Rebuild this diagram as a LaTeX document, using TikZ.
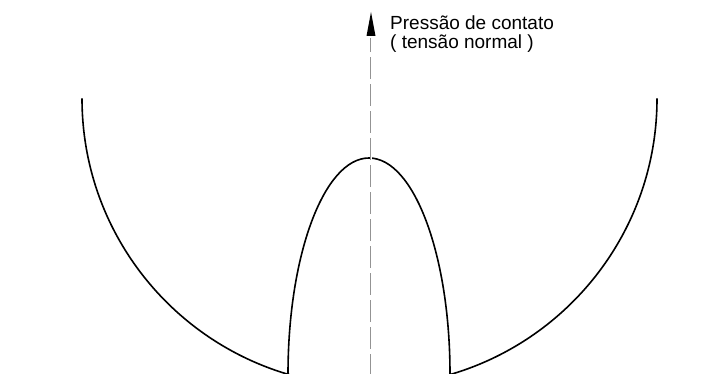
\documentclass[tikz,border=0pt]{standalone}
\usepackage{fontspec}
\setmainfont{Liberation Sans}
\usetikzlibrary{arrows.meta}
\begin{document}
\begin{tikzpicture}[x=1pt,y=1pt,
  curve/.style={line width=1.6pt, black},
  axisline/.style={draw=gray!85, line width=0.5pt, double=white, double distance=0.9pt, dash pattern=on 22pt off 5pt},
  label/.style={font=\fontsize{19}{18.5}\selectfont, align=left, inner sep=0pt}
]
\useasboundingbox (0,0) rectangle (717,374);
\clip (0,0) rectangle (717,374);
% big circular arc
\draw[curve] (82,275.5) arc[start angle=180, end angle=360, radius=287.5];
% inner elliptical arc
\draw[curve] (450,0) arc[start angle=0, end angle=180, x radius=81, y radius=216];
% axis
\coordinate (axisbot) at (371,-2);
\coordinate (axisend) at (371,336);
\coordinate (tip) at (371,362);
\draw[axisline] (axisbot) -- (axisend);
\fill[black] (366.5,338) -- (tip) -- (375.5,338) -- cycle;
\node[label, anchor=base west] (lab) at (390,325.5) {Pressão de contato\\( tensão normal )};
\end{tikzpicture}
\end{document}
